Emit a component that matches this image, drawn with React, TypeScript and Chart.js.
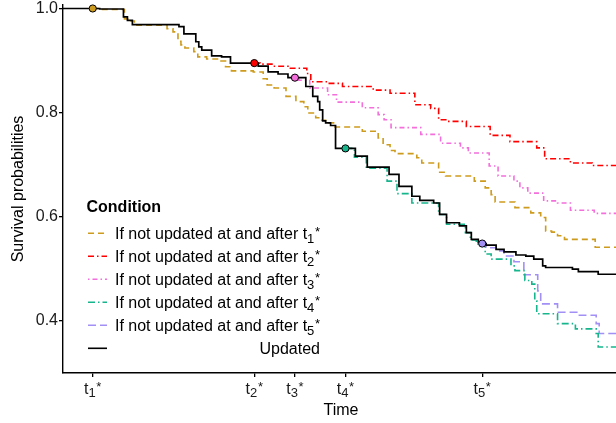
import { useEffect, useRef } from 'react';
import { Chart, registerables } from 'chart.js';

Chart.register(...registerables);

const FONT = '"Liberation Sans", Arial, Helvetica, sans-serif';

// Time of each update t_i* (arbitrary time units) and survival at that time
const tStarTimes = [30, 193, 234, 285, 423];
const tStarSurv = [1.0, 0.895, 0.867, 0.731, 0.548];
const tStarSubs = ['1', '2', '3', '4', '5'];

const yTickValues = [0.4, 0.6, 0.8, 1.0];

// Updated (black)
const updatedTimes = [0, 37, 61, 65, 70, 117, 122, 134, 137, 140, 150, 160, 169, 197, 207, 217, 227, 245, 252, 257, 259, 262, 265, 270, 275, 295, 307, 329, 339, 352, 360, 374, 380, 387, 400, 407, 412, 419, 421, 427, 437, 445, 457, 467, 475, 484, 487, 514, 520, 540, 561];
const updatedSurv = [1.000, 0.999, 0.984, 0.977, 0.969, 0.965, 0.951, 0.936, 0.926, 0.920, 0.909, 0.907, 0.895, 0.889, 0.878, 0.874, 0.867, 0.850, 0.831, 0.821, 0.805, 0.784, 0.780, 0.775, 0.731, 0.716, 0.695, 0.681, 0.658, 0.639, 0.631, 0.626, 0.604, 0.588, 0.582, 0.569, 0.556, 0.550, 0.548, 0.545, 0.537, 0.532, 0.526, 0.524, 0.518, 0.505, 0.502, 0.499, 0.494, 0.489, 0.489];

// If not updated at and after t1*
const t1Times = [30, 37, 62, 67, 72, 105, 111, 116, 119, 123, 132, 136, 145, 157, 164, 170, 192, 202, 206, 213, 225, 235, 243, 247, 255, 259, 265, 273, 302, 318, 323, 330, 335, 357, 362, 379, 386, 415, 426, 432, 436, 456, 472, 482, 487, 493, 499, 506, 537, 561];
const t1Surv = [1.000, 0.998, 0.980, 0.976, 0.968, 0.961, 0.955, 0.937, 0.930, 0.924, 0.917, 0.907, 0.903, 0.899, 0.888, 0.880, 0.878, 0.865, 0.853, 0.847, 0.831, 0.821, 0.811, 0.799, 0.790, 0.785, 0.780, 0.772, 0.764, 0.751, 0.738, 0.727, 0.721, 0.713, 0.703, 0.685, 0.678, 0.668, 0.655, 0.642, 0.628, 0.617, 0.607, 0.598, 0.572, 0.570, 0.563, 0.556, 0.541, 0.541];

// If not updated at and after t2*
const t2Times = [193, 199, 212, 227, 246, 250, 267, 282, 313, 330, 355, 371, 379, 388, 407, 431, 451, 478, 486, 512, 534, 561];
const t2Surv = [0.895, 0.893, 0.889, 0.885, 0.875, 0.859, 0.856, 0.850, 0.843, 0.837, 0.815, 0.808, 0.786, 0.783, 0.773, 0.756, 0.744, 0.732, 0.711, 0.703, 0.698, 0.698];

// If not updated at and after t3*
const t3Times = [234, 238, 249, 267, 276, 302, 318, 324, 331, 361, 381, 401, 409, 430, 439, 455, 461, 469, 485, 499, 512, 536, 561];
const t3Surv = [0.867, 0.862, 0.847, 0.834, 0.820, 0.809, 0.796, 0.786, 0.771, 0.758, 0.741, 0.732, 0.722, 0.697, 0.678, 0.668, 0.655, 0.645, 0.630, 0.626, 0.612, 0.606, 0.606];

// If not updated at and after t4*
const t4Times = [285, 294, 306, 327, 337, 352, 379, 387, 406, 411, 417, 426, 432, 452, 456, 466, 473, 476, 478, 499, 517, 538, 540, 561];
const t4Surv = [0.731, 0.714, 0.693, 0.668, 0.644, 0.626, 0.604, 0.585, 0.569, 0.555, 0.547, 0.528, 0.518, 0.505, 0.496, 0.477, 0.470, 0.438, 0.413, 0.394, 0.384, 0.375, 0.349, 0.349];

// If not updated at and after t5*
const t5Times = [423, 427, 437, 445, 455, 465, 479, 482, 499, 521, 538, 541, 561];
const t5Surv = [0.548, 0.540, 0.534, 0.524, 0.513, 0.488, 0.457, 0.432, 0.416, 0.410, 0.394, 0.375, 0.375];

const legendTitle = 'Condition';
const conditionPrefix = 'If not updated at and after ';
const updatedLabel = 'Updated';

const COLORS = ['#CD9B1D', '#FF0000', '#F46FDB', '#16B58C', '#A390F5'];
const DASHES = [[6, 4], [6, 3, 1.5, 3], [1.5, 3, 5, 3], [7, 3, 1.5, 3], [8, 4]];

const seriesTimes = [t1Times, t2Times, t3Times, t4Times, t5Times];
const seriesSurv = [t1Surv, t2Surv, t3Surv, t4Surv, t5Surv];

const zip = (xs: number[], ys: number[]) => xs.map((x, i) => ({ x, y: ys[i] }));

function drawTLabel(ctx: CanvasRenderingContext2D, prefix: string, sub: string, x: number, baseline: number, align: string) {
  ctx.font = `16px ${FONT}`;
  const wMain = ctx.measureText(prefix + 't').width;
  ctx.font = `13px ${FONT}`;
  const wSub = ctx.measureText(sub).width;
  const wSup = ctx.measureText('*').width;
  const total = wMain + wSub + 0.6 + wSup;
  const x0 = align === 'center' ? x - total / 2 : align === 'right' ? x - total : x;
  ctx.textAlign = 'left';
  ctx.textBaseline = 'alphabetic';
  ctx.font = `16px ${FONT}`;
  ctx.fillText(prefix + 't', x0, baseline);
  ctx.font = `13px ${FONT}`;
  ctx.fillText(sub, x0 + wMain, baseline + 3.5);
  ctx.fillText('*', x0 + wMain + wSub + 0.6, baseline - 2.6);
}

const annotPlugin = {
  id: 'annot',
  afterDraw(chart: any) {
    const ctx: CanvasRenderingContext2D = chart.ctx;
    const xs = chart.scales.x;
    ctx.save();
    ctx.fillStyle = '#1a1a1a';
    // x tick labels
    tStarTimes.forEach((t, i) => {
      drawTLabel(ctx, '', tStarSubs[i], xs.getPixelForValue(t), xs.top + 20.5, 'center');
    });
    // legend
    ctx.fillStyle = '#000';
    ctx.font = `bold 16px ${FONT}`;
    ctx.textAlign = 'left';
    ctx.textBaseline = 'alphabetic';
    ctx.fillText(legendTitle, 86.5, 211.7);
    const rowY = (i: number) => 233.3 + i * 23;
    const textRight = 320;
    for (let i = 0; i < 6; i++) {
      const y = rowY(i);
      ctx.save();
      ctx.beginPath();
      ctx.lineWidth = 1.6;
      if (i < 5) {
        ctx.strokeStyle = COLORS[i];
        ctx.setLineDash(DASHES[i]);
      } else {
        ctx.strokeStyle = '#000';
        ctx.setLineDash([]);
      }
      ctx.moveTo(88, y);
      ctx.lineTo(107, y);
      ctx.stroke();
      ctx.restore();
      ctx.fillStyle = '#000';
      if (i < 5) {
        drawTLabel(ctx, conditionPrefix, tStarSubs[i], textRight, y + 5.7, 'right');
      } else {
        ctx.font = `16px ${FONT}`;
        ctx.textAlign = 'right';
        ctx.fillText(updatedLabel, textRight, y + 5.7);
      }
    }
    ctx.restore();
  },
};

export default function App() {
  const ref = useRef<HTMLCanvasElement | null>(null);
  useEffect(() => {
    const canvas = ref.current;
    if (!canvas) return;
    const condDatasets = seriesTimes.map((ts, i) => ({
      data: zip(ts, seriesSurv[i]),
      borderColor: COLORS[i],
      borderWidth: 1.6,
      borderDash: DASHES[i],
      stepped: true,
      pointRadius: 0,
      fill: false,
      order: 2 + i,
    }));
    const chart = new Chart(canvas, {
      type: 'line',
      data: {
        datasets: [
          {
            data: zip(tStarTimes, tStarSurv),
            showLine: false,
            pointRadius: 3.6,
            pointBackgroundColor: COLORS,
            pointBorderColor: '#000',
            pointBorderWidth: 1,
            clip: false,
            order: 0,
          } as any,
          {
            data: zip(updatedTimes, updatedSurv),
            borderColor: '#000',
            borderWidth: 1.7,
            stepped: true,
            pointRadius: 0,
            fill: false,
            order: 1,
          },
          ...condDatasets,
        ],
      },
      options: {
        animation: false,
        responsive: false,
        maintainAspectRatio: false,
        layout: { padding: { top: 3, left: 0, right: 0, bottom: 0 } },
        plugins: { legend: { display: false }, tooltip: { enabled: false } },
        scales: {
          x: {
            type: 'linear',
            min: 0,
            max: 561,
            afterFit: (s: any) => { s.height = 50; s.paddingLeft = 0; s.paddingRight = 0; },
            afterBuildTicks: (s: any) => { s.ticks = tStarTimes.map((v) => ({ value: v })); },
            ticks: { display: false },
            grid: { display: true, drawOnChartArea: false, drawTicks: true, tickLength: 4, color: '#000', lineWidth: 1.3 },
            border: { display: true, color: '#000', width: 1.4 },
            title: { display: true, text: 'Time', color: '#000', font: { size: 16, family: FONT }, padding: { top: 0, bottom: 3 } },
          },
          y: {
            type: 'linear',
            min: 0.2991,
            max: 1.0067,
            afterFit: (s: any) => { s.width = 63; s.paddingTop = 0; s.paddingBottom = 0; },
            afterBuildTicks: (s: any) => { s.ticks = yTickValues.map((v) => ({ value: v })); },
            ticks: {
              color: '#1a1a1a',
              font: { size: 16, family: FONT },
              padding: 1,
              callback: (v: any) => Number(v).toFixed(1),
            },
            grid: { display: true, drawOnChartArea: false, drawTicks: true, tickLength: 4, color: '#000', lineWidth: 1.3 },
            border: { display: true, color: '#000', width: 1.4 },
            title: { display: true, text: 'Survival probabilities', color: '#000', font: { size: 16, family: FONT }, padding: { top: 9, bottom: 0 } },
          },
        },
      },
      plugins: [annotPlugin],
    } as any);
    return () => chart.destroy();
  }, []);
  return (
    <div style={{ position: 'fixed', left: 0, top: 0, width: 616, height: 423, overflow: 'hidden', background: '#fff' }}>
      <canvas ref={ref} width={624} height={423} style={{ display: 'block', width: 624, height: 423 }} />
    </div>
  );
}
